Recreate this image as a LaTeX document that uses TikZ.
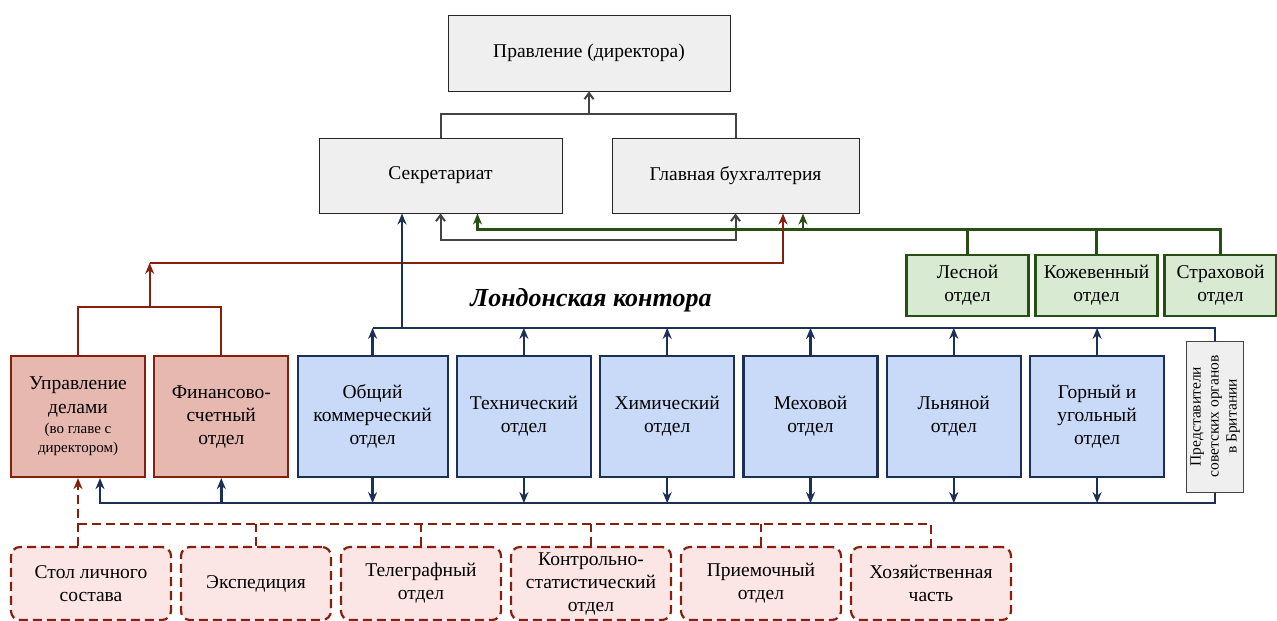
\documentclass[tikz,border=0pt]{standalone}
\usepackage{fontspec}
\setmainfont{Liberation Serif}
\usetikzlibrary{positioning, arrows.meta, calc}

\definecolor{boxgray}{HTML}{EFEFEF}
\definecolor{linegray}{HTML}{434343}
\definecolor{fillgreen}{HTML}{D9EAD3}
\definecolor{darkgreen}{HTML}{274E13}
\definecolor{fillred}{HTML}{E6B8AF}
\definecolor{darkred}{HTML}{85200C}
\definecolor{fillblue}{HTML}{C9DAF8}
\definecolor{darkblue}{HTML}{1C2F55}
\definecolor{fillpink}{HTML}{FCE5E5}

\newcommand{\mainsz}{\fontsize{19.5}{23}\selectfont}
\newcommand{\smallsz}{\fontsize{15}{18}\selectfont}

\begin{document}
\begin{tikzpicture}[x=1pt, y=-1pt, node distance=7.1pt, font=\mainsz, >={Stealth[length=11pt, width=9pt]}]
    % Define block styles
    \tikzstyle{topblock} = [rectangle, draw=black!85, fill=boxgray, line width=1pt, align=center, inner sep=2pt]
    \tikzstyle{redblock} = [rectangle, draw=darkred, fill=fillred, line width=2.2pt, minimum width=134pt, minimum height=121pt, align=center, inner sep=2pt]
    \tikzstyle{blueblock} = [rectangle, draw=darkblue, fill=fillblue, line width=2.2pt, minimum width=134pt, minimum height=121pt, align=center, inner sep=2pt]
    \tikzstyle{greenblock} = [rectangle, draw=darkgreen, fill=fillgreen, line width=2.2pt, minimum width=122pt, minimum height=61pt, align=center, inner sep=2pt]
    \tikzstyle{dashblock} = [rectangle, rounded corners=9pt, draw=darkred, fill=fillpink, line width=2.2pt, dash pattern=on 9pt off 5pt, minimum width=160pt, minimum height=73pt, align=center, inner sep=2pt]
    \tikzstyle{repblock} = [rectangle, draw=linegray, fill=boxgray, line width=1pt, minimum width=151pt, minimum height=57pt, align=center, inner sep=1pt, font=\fontsize{15.5}{18}\selectfont]
    \tikzstyle{grayline} = [draw=linegray, line width=2pt]
    \tikzstyle{greenline} = [draw=darkgreen, line width=2.2pt]
    \tikzstyle{redline} = [draw=darkred, line width=2.2pt]
    \tikzstyle{blueline} = [draw=darkblue, line width=2.5pt]
    \tikzstyle{dashline} = [draw=darkred, line width=2.2pt, dash pattern=on 9pt off 5pt]

    \useasboundingbox (0,0) rectangle (1277,621);

    % Blocks and nodes
    \node [topblock, minimum width=282pt, minimum height=76pt] (board) at (589,53) {Правление (директора)};
    \node [topblock, minimum width=243pt, minimum height=75pt] (secr) at (440.5,175.5) {Секретариат};
    \node [topblock, minimum width=247pt, minimum height=75pt] (acct) at (735.5,175.5) {Главная бухгалтерия};

    \node [greenblock] (forest) at (967.5,285.5) {Лесной\\отдел};
    \node [greenblock, right=4.8pt of forest] (leather) {Кожевенный\\отдел};
    \node [greenblock, right=4.8pt of leather, minimum width=112pt] (insur) {Страховой\\отдел};

    \node [font=\fontsize{26}{30}\selectfont\bfseries\itshape] (london) at (591,300) {Лондонская контора};

    \node [redblock] (affairs) at (78,416.5) {Управление\\[1pt]делами\\[-3pt]{\smallsz (во главе с}\\[-4pt]{\smallsz директором)}};
    \node [redblock, right=of affairs] (finance) {Финансово-\\счетный\\отдел};
    \node [blueblock, right=of finance, minimum width=150pt] (general) {Общий\\коммерческий\\отдел};
    \node [blueblock, right=of general] (tech) {Технический\\отдел};
    \node [blueblock, right=of tech] (chem) {Химический\\отдел};
    \node [blueblock, right=of chem] (fur) {Меховой\\отдел};
    \node [blueblock, right=of fur] (flax) {Льняной\\отдел};
    \node [blueblock, right=of flax] (mining) {Горный и\\угольный\\отдел};

    \node [dashblock] (staff) at (91,583.5) {Стол личного\\состава};
    \node [dashblock, right=7.8pt of staff, minimum width=150pt] (dispatch) {Экспедиция};
    \node [dashblock, right=7.8pt of dispatch] (telegraph) {Телеграфный\\отдел};
    \node [dashblock, right=7.8pt of telegraph] (control) {Контрольно-\\статистический\\отдел};
    \node [dashblock, right=7.8pt of control] (reception) {Приемочный\\отдел};
    \node [dashblock, right=7.8pt of reception] (household) {Хозяйственная\\часть};

    % Connections
    \coordinate (topj) at ($(board.south)+(0,22)$);
    \draw [grayline] (secr.north) |- (topj) -| (acct.north);
    \draw [grayline, -{Straight Barb[length=6pt, width=9pt]}] (topj) -- (board.south);
    \draw [grayline, {Straight Barb[length=6pt, width=9pt]}-{Straight Barb[length=6pt, width=9pt]}] (secr.south) -- ++(0,26) -| (acct.south);

    \coordinate (gsec) at ($(secr.south)+(37,16)$);
    \coordinate (gacc) at ($(acct.south)+(67.5,16)$);
    \draw [greenline, ->] (insur.north) |- (gsec) -- (gsec |- secr.south);
    \draw [greenline] (forest.north) -- (forest.north |- gsec);
    \draw [greenline] (leather.north) -- (leather.north |- gsec);
    \draw [greenline, ->] (gacc) -- (gacc |- acct.south);

    \coordinate (rj) at ($(affairs.north)!0.5!(finance.north)+(0,-48)$);
    \coordinate (rtop) at ($(rj)+(0,-44)$);
    \coordinate (racc) at ($(acct.south)+(47.5,0)$);
    \draw [redline] (affairs.north) |- (rj) -| (finance.north);
    \draw [redline, ->] (rj) -- (rtop);
    \draw [redline, ->] (rtop) -| (racc);

    \coordinate (btop) at ($(general.north)+(0,-27)$);
    \coordinate (bbot) at ($(general.south)+(0,25)$);
    \coordinate (bsec) at ($(secr.south)+(-38.5,0)$);
    \coordinate (baff) at ($(affairs.south)+(22,0)$);
    \coordinate (bright) at ($(mining.east)+(50,0)$);
    \draw [blueline, ->] (bsec |- btop) -- (bsec);
    \draw [blueline, ->] (general.north |- btop) -- (btop -| bright) -- (bbot -| bright) -- (bbot -| baff) -- (baff);
    \draw [blueline, ->] (finance.south |- bbot) -- (finance.south);
    \foreach \d in {general, tech, chem, fur, flax, mining} {
        \draw [blueline, ->] (\d.north) -- (\d.north |- btop);
        \draw [blueline, ->] (\d.south) -- (\d.south |- bbot);
    }

    \coordinate (dj) at ($(affairs.south)+(0,46)$);
    \draw [dashline, ->] (staff.north -| dj) -- (affairs.south);
    \draw [dashline] (dj) -| (household.north);
    \foreach \d in {dispatch, telegraph, control, reception}
        \draw [dashline] (\d.north) -- (\d.north |- dj);

    \node [repblock, rotate=90] (reps) at (bright) {Представители\\советских органов\\в Британии};
\end{tikzpicture}
\end{document}
